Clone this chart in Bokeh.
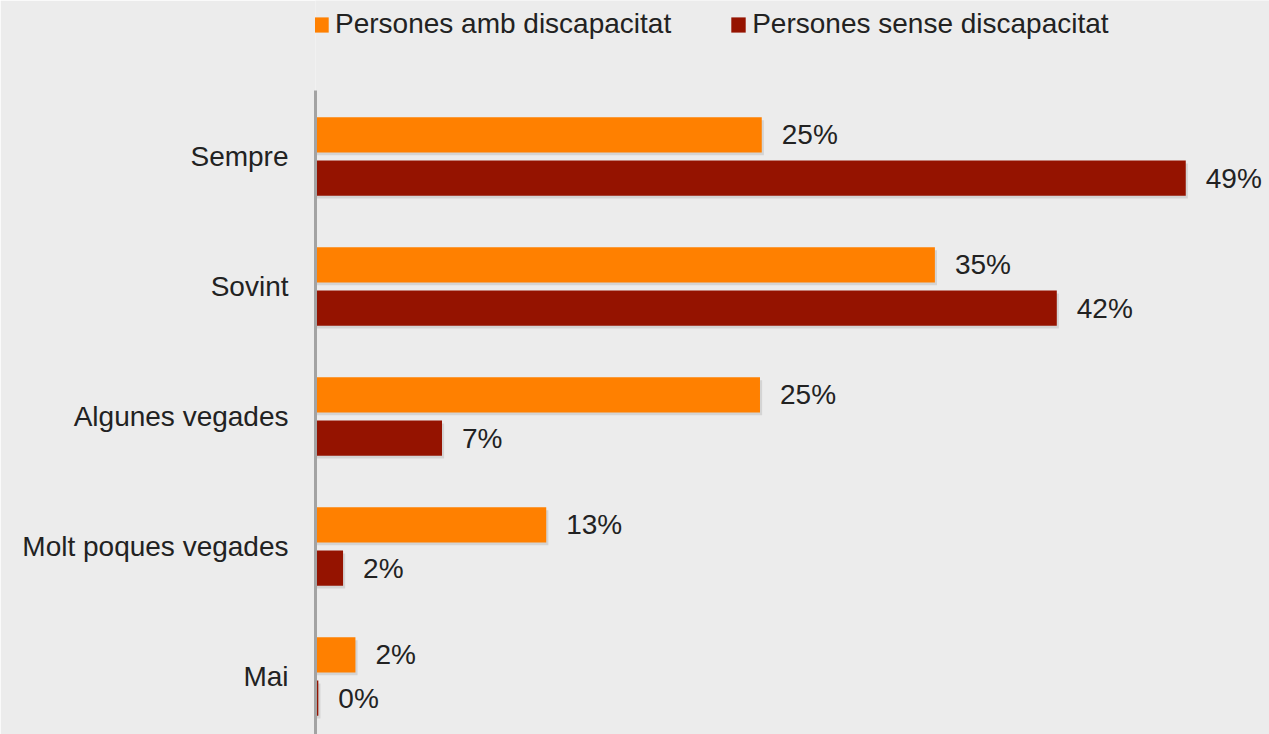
from bokeh.plotting import figure
from bokeh.models import ColumnDataSource, Range1d, FixedTicker, Legend, LegendItem
from bokeh.core.properties import value
from bokeh.embed import file_html
from bokeh.resources import INLINE

categories = ["Sempre", "Sovint", "Algunes vegades", "Molt poques vegades", "Mai"]
amb = [25.2, 35.0, 25.1, 13.0, 2.2]
sense = [49.2, 41.9, 7.1, 1.5, 0.1]
series_names = ["Persones amb discapacitat", "Persones sense discapacitat"]
colors = ["#FF8000", "#951300"]

FONT = "Liberation Sans"
TXT = "#222222"
BG = "#ececec"

n = len(categories)
pos = [n - 1 - i for i in range(n)]
off = 0.166
bar_h = 0.27

src_a = ColumnDataSource(dict(y=[p_ + off for p_ in pos], v=amb,
                              lab=["%d%%" % round(v) for v in amb]))
src_s = ColumnDataSource(dict(y=[p_ - off for p_ in pos], v=sense,
                              lab=["%d%%" % round(v) for v in sense]))
sh_a = ColumnDataSource(dict(y=[p_ + off - 0.022 for p_ in pos], v=[v + 0.12 for v in amb]))
sh_s = ColumnDataSource(dict(y=[p_ - off - 0.022 for p_ in pos], v=[v + 0.12 for v in sense]))

y_top = (n - 1) + 156 / 130
y_bot = (n - 1) - 578 / 130

p = figure(width=1269, height=734, output_backend="svg", toolbar_location=None,
           x_range=Range1d(-0.06, 53.94), y_range=Range1d(y_bot, y_top),
           min_border_left=315, min_border_right=0, min_border_top=0, min_border_bottom=0)
p.background_fill_color = BG
p.border_fill_color = BG
p.outline_line_color = None
p.xgrid.visible = False
p.ygrid.visible = False
p.xaxis.visible = False

for s in (sh_a, sh_s):
    p.hbar(y="y", left=0, right="v", height=bar_h, source=s,
           fill_color="black", fill_alpha=0.10, line_color=None)

r_a = p.hbar(y="y", left=0, right="v", height=bar_h, source=src_a,
             fill_color=colors[0], line_color=None)
r_s = p.hbar(y="y", left=0, right="v", height=bar_h, source=src_s,
             fill_color=colors[1], line_color=None)

for s in (src_a, src_s):
    p.text(x="v", y="y", text="lab", source=s, x_offset=20,
           text_baseline="middle", text_align="left",
           text_font=value(FONT), text_font_size="28px", text_color=TXT)

ax = p.yaxis[0]
ax.ticker = FixedTicker(ticks=pos)
ax.major_label_overrides = {p_: c for p_, c in zip(pos, categories)}
ax.bounds = (y_bot, (n - 1) + 66 / 130)
ax.axis_line_color = "#a3a3a3"
ax.axis_line_width = 3
ax.major_tick_line_color = None
ax.minor_tick_line_color = None
ax.major_tick_out = 0
ax.major_tick_in = 0
ax.major_label_standoff = 27
ax.major_label_text_font = FONT
ax.major_label_text_font_size = "28px"
ax.major_label_text_color = TXT

legend = Legend(items=[LegendItem(label=series_names[0], renderers=[r_a]),
                       LegendItem(label=series_names[1], renderers=[r_s])],
                orientation="horizontal", location=(-3, 694),
                glyph_width=18, glyph_height=19, label_standoff=5, spacing=58,
                padding=0, margin=0,
                label_text_font=FONT, label_text_font_size="28px", label_text_color=TXT,
                background_fill_alpha=0, border_line_color=None)
p.add_layout(legend)

open("out.html", "w").write(file_html(p, INLINE))
